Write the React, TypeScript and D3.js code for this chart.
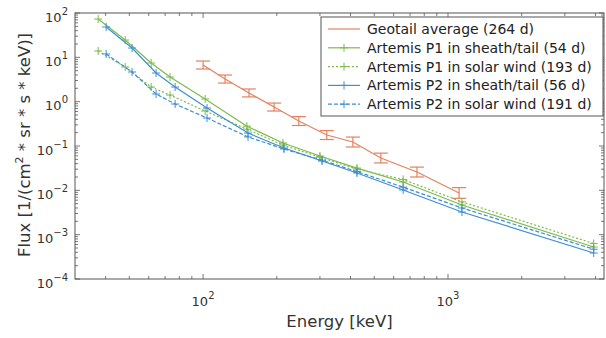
import React from "react";
import * as d3 from "d3";

const geoE = [100, 123, 154, 195, 246, 320, 409, 532, 747, 1110];
const geoF = [6.7, 3.24, 1.57, 0.757, 0.366, 0.177, 0.123, 0.0535, 0.0259, 0.0087];
const geoLow = [5.45, 2.63, 1.28, 0.615, 0.29, 0.14, 0.095, 0.0415, 0.02, 0.0066];
const geoHigh = [8.25, 3.99, 1.93, 0.93, 0.46, 0.223, 0.159, 0.069, 0.0334, 0.0115];

const p1E = [37.3, 48.1, 61.4, 73.3, 102, 151, 212, 300, 425, 656, 1140, 3935];
const p1Sheath = [73, 24.6, 7.45, 3.6, 1.15, 0.28, 0.117, 0.0594, 0.0318, 0.0154, 0.00467, 0.000526];
const p1Wind = [13.9, 6.05, 2.14, 1.41, 0.615, 0.24, 0.105, 0.056, 0.03, 0.0176, 0.0055, 0.00063];

const p2E = [40.2, 51.3, 64.3, 76.9, 103.8, 152.6, 214, 306, 425, 656, 1140, 3935];
const p2Sheath = [48.3, 16.2, 4.43, 2.14, 0.72, 0.196, 0.09, 0.0458, 0.0246, 0.0102, 0.00324, 0.000386];
const p2Wind = [11.9, 4.67, 1.49, 0.885, 0.428, 0.16, 0.0855, 0.048, 0.0265, 0.0118, 0.004, 0.00047];

const legendLabels = [
  "Geotail average (264 d)",
  "Artemis P1 in sheath/tail (54 d)",
  "Artemis P1 in solar wind (193 d)",
  "Artemis P2 in sheath/tail (56 d)",
  "Artemis P2 in solar wind (191 d)",
];

const xMajor = [2, 3];
const yMajor = [2, 1, 0, -1, -2, -3, -4];

const ORANGE = "#E5805E";
const GREEN = "#7DBB4A";
const BLUE = "#3F8FD2";
const AXIS = "#555";
const FONT = "'DejaVu Sans', sans-serif";

export default function App() {
  const W = 606, H = 338;
  const L = 75, R = 604, T = 13, B = 279;
  const x = d3.scaleLog().domain([30, 4335]).range([L, R]);
  const y = d3.scaleLog().domain([1e-4, 1e2]).range([B, T]);

  const line = (E: number[], F: number[]) =>
    d3.line<number>().x((_, i) => x(E[i])).y((v) => y(v))(F) || "";

  const xMinor: number[] = [];
  for (let dec = 10; dec <= 1000; dec *= 10) {
    for (let k = 2; k <= 9; k++) {
      const v = dec * k;
      if (v > 30 && v < 4335) xMinor.push(v);
    }
  }
  const yMinor: number[] = [];
  for (let dec = 1e-4; dec < 1e2; dec *= 10) {
    for (let k = 2; k <= 9; k++) yMinor.push(dec * k);
  }

  const series = [
    { E: p1E, F: p1Sheath, color: GREEN, dash: "none" },
    { E: p1E, F: p1Wind, color: GREEN, dash: "2,2" },
    { E: p2E, F: p2Sheath, color: BLUE, dash: "none" },
    { E: p2E, F: p2Wind, color: BLUE, dash: "4,2" },
  ];

  const plus = (cx: number, cy: number, c: string, key: string) => (
    <g key={key} stroke={c} strokeWidth={1} strokeDasharray="none">
      <line x1={cx - 4} x2={cx + 4} y1={cy} y2={cy} />
      <line x1={cx} x2={cx} y1={cy - 4} y2={cy + 4} />
    </g>
  );

  const legendStyles = [
    { color: ORANGE, dash: "none", marker: false },
    { color: GREEN, dash: "none", marker: true },
    { color: GREEN, dash: "2,2", marker: true },
    { color: BLUE, dash: "none", marker: true },
    { color: BLUE, dash: "4,2", marker: true },
  ];
  const lgX = 321, lgY = 17, lgW = 282, lgH = 99;

  return (
    <svg width={W} height={H} style={{ position: "absolute", left: 0, top: 0, background: "#fff" }} fontFamily={FONT}>
      <rect x={0} y={0} width={W} height={H} fill="#fff" />
      {/* ticks */}
      <g stroke={AXIS} strokeWidth={0.8}>
        {xMajor.map((p) => {
          const xx = x(Math.pow(10, p));
          return (
            <g key={"xm" + p}>
              <line x1={xx} x2={xx} y1={B} y2={B - 5} />
              <line x1={xx} x2={xx} y1={T} y2={T + 5} />
            </g>
          );
        })}
        {xMinor.map((v) => (
          <g key={"xn" + v}>
            <line x1={x(v)} x2={x(v)} y1={B} y2={B - 3} />
            <line x1={x(v)} x2={x(v)} y1={T} y2={T + 3} />
          </g>
        ))}
        {yMajor.map((p) => {
          const yy = y(Math.pow(10, p));
          return (
            <g key={"ym" + p}>
              <line x1={L} x2={L + 5} y1={yy} y2={yy} />
              <line x1={R} x2={R - 5} y1={yy} y2={yy} />
            </g>
          );
        })}
        {yMinor.map((v, i) => (
          <g key={"yn" + i}>
            <line x1={L} x2={L + 3} y1={y(v)} y2={y(v)} />
            <line x1={R} x2={R - 3} y1={y(v)} y2={y(v)} />
          </g>
        ))}
      </g>
      {/* series */}
      <g fill="none" strokeWidth={1.2}>
        <path d={line(geoE, geoF)} stroke={ORANGE} />
        {geoE.map((e, i) => {
          const xx = x(e);
          return (
            <g key={"eb" + i} stroke={ORANGE} strokeWidth={1.2}>
              <line x1={xx} x2={xx} y1={y(geoLow[i])} y2={y(geoHigh[i])} />
              <line x1={xx - 7} x2={xx + 7} y1={y(geoLow[i])} y2={y(geoLow[i])} />
              <line x1={xx - 7} x2={xx + 7} y1={y(geoHigh[i])} y2={y(geoHigh[i])} />
            </g>
          );
        })}
        {series.map((s, si) => (
          <g key={"s" + si}>
            <path d={line(s.E, s.F)} stroke={s.color} strokeDasharray={s.dash} />
            {s.F.map((v, i) => plus(x(s.E[i]), y(v), s.color, "m" + si + "_" + i))}
          </g>
        ))}
      </g>
      {/* axes box */}
      <rect x={L} y={T} width={R - L} height={B - T} fill="none" stroke={AXIS} strokeWidth={1} />
      {/* tick labels */}
      <g fill="#333" fontSize={13}>
        {yMajor.map((p) => (
          <text key={"yl" + p} x={L - 7} y={y(Math.pow(10, p)) + 8.5} textAnchor="end">
            <tspan>10</tspan>
            <tspan dy={-7} fontSize={10}>{p < 0 ? "\u2212" + Math.abs(p) : p}</tspan>
          </text>
        ))}
        {xMajor.map((p) => (
          <text key={"xl" + p} x={x(Math.pow(10, p))} y={B + 27} textAnchor="middle">
            <tspan>10</tspan>
            <tspan dy={-7} fontSize={10}>{p}</tspan>
          </text>
        ))}
        <text x={(L + R) / 2} y={B + 48} textAnchor="middle" fontSize={16.5}>Energy [keV]</text>
        <text transform={`translate(30, ${(T + B) / 2 - 1}) rotate(-90)`} textAnchor="middle" fontSize={16.5}>
          <tspan>Flux [1/(cm</tspan>
          <tspan dy={-7} fontSize={11}>2</tspan>
          <tspan dy={7}> * sr * s * keV)]</tspan>
        </text>
      </g>
      {/* legend */}
      <rect x={lgX} y={lgY} width={lgW} height={lgH} fill="#fff" stroke={AXIS} strokeWidth={1} />
      {legendLabels.map((lab, i) => {
        const yy = lgY + 12 + i * 18.8;
        const st = legendStyles[i];
        return (
          <g key={"lg" + i}>
            <line x1={328} x2={360} y1={yy} y2={yy} stroke={st.color} strokeWidth={1.2} strokeDasharray={st.dash} />
            {st.marker && plus(344, yy, st.color, "lm" + i)}
            <text x={367} y={yy + 5} fontSize={14} fill="#222">{lab}</text>
          </g>
        );
      })}
    </svg>
  );
}
